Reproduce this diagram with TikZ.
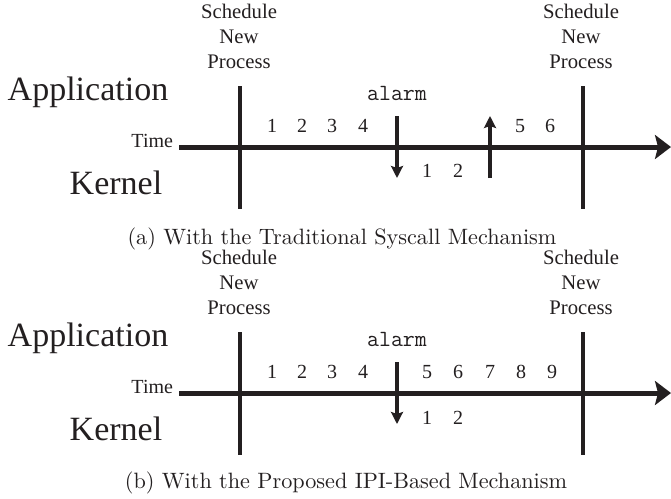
\documentclass[tikz,border=0pt]{standalone}
\usepackage{fontspec}
\usetikzlibrary{arrows.meta}
\newfontfamily\tmsfont{Liberation Serif}
\definecolor{ink}{RGB}{35,31,32}

\begin{document}
\begin{tikzpicture}[x=1pt,y=-1pt,
  every node/.style={inner sep=0pt,outer sep=0pt,text=ink},
  layer/.style={anchor=base,font=\tmsfont\fontsize{34}{40}\selectfont},
  timelbl/.style={anchor=base east,font=\tmsfont\fontsize{20}{24}\selectfont},
  % multi-line node: its base anchor sits on the last line
  sched/.style={anchor=base,align=center,font=\tmsfont\fontsize{20.7}{25}\selectfont},
  num/.style={anchor=base,font=\tmsfont\fontsize{20}{24}\selectfont},
  call/.style={anchor=base,font=\ttfamily\fontsize{23.2}{26}\selectfont},
  % caption set in the 10pt design and enlarged
  capt/.style={anchor=base,scale=2.22,font=\fontsize{10}{12}\selectfont},
  axisline/.style={draw=ink,line width=5pt,-{Stealth[length=16pt,width=24pt,inset=3pt]}},
  switchline/.style={draw=ink,line width=3.8pt},
  trap/.style={draw=ink,line width=3.2pt,-{Stealth[length=12pt,width=12pt,inset=2pt]}}
]
\useasboundingbox (0,0) rectangle (671,498);

% ---------- (a) traditional syscall ----------
\node[layer] (aapp) at (88,100) {Application};
\node[layer] (aker) at (116,194) {Kernel};
\node[timelbl] (atime) at (173,147) {Time};
\coordinate (aaxs) at (179,147);
\coordinate (aaxe) at (671,147);
\draw[axisline] (aaxs) -- (aaxe);

\node[sched] (aschl) at (239,68) {Schedule\\New\\Process};
\node[sched] (aschr) at (581,68) {Schedule\\New\\Process};
\coordinate (asl1) at (240,86);  \coordinate (asl2) at (240,209);
\coordinate (asr1) at (583,86);  \coordinate (asr2) at (583,209);
\draw[switchline] (asl1) -- (asl2);
\draw[switchline] (asr1) -- (asr2);

\node[num] (au1) at (272,132) {1};
\node[num] (au2) at (302,132) {2};
\node[num] (au3) at (332,132) {3};
\node[num] (au4) at (363,132) {4};
\node[num] (au5) at (520,132) {5};
\node[num] (au6) at (550,132) {6};
\node[num] (ak1) at (427,177) {1};
\node[num] (ak2) at (458,177) {2};

\node[call] (aalarm) at (397,100) {alarm};
\coordinate (adn1) at (397,116); \coordinate (adn2) at (397,178);
\coordinate (aup1) at (490,178); \coordinate (aup2) at (490,116);
\draw[trap] (adn1) -- (adn2);
\draw[trap] (aup1) -- (aup2);

\node[capt] (acap) at (342,244) {(a) With the Traditional Syscall Mechanism};

% ---------- (b) IPI-based ----------
\node[layer] (bapp) at (88,346) {Application};
\node[layer] (bker) at (116,440) {Kernel};
\node[timelbl] (btime) at (173,393) {Time};
\coordinate (baxs) at (179,393);
\coordinate (baxe) at (671,393);
\draw[axisline] (baxs) -- (baxe);

\node[sched] (bschl) at (239,314) {Schedule\\New\\Process};
\node[sched] (bschr) at (581,314) {Schedule\\New\\Process};
\coordinate (bsl1) at (240,332);  \coordinate (bsl2) at (240,455);
\coordinate (bsr1) at (583,332);  \coordinate (bsr2) at (583,455);
\draw[switchline] (bsl1) -- (bsl2);
\draw[switchline] (bsr1) -- (bsr2);

\node[num] (bu1) at (272,378) {1};
\node[num] (bu2) at (302,378) {2};
\node[num] (bu3) at (332,378) {3};
\node[num] (bu4) at (363,378) {4};
\node[num] (bu5) at (427,378) {5};
\node[num] (bu6) at (458,378) {6};
\node[num] (bu7) at (490,378) {7};
\node[num] (bu8) at (521,378) {8};
\node[num] (bu9) at (552,378) {9};
\node[num] (bk1) at (427,424) {1};
\node[num] (bk2) at (458,424) {2};

\node[call] (balarm) at (397,346) {alarm};
\coordinate (bdn1) at (397,362); \coordinate (bdn2) at (397,424);
\draw[trap] (bdn1) -- (bdn2);

\node[capt] (bcap) at (346,488) {(b) With the Proposed IPI-Based Mechanism};
\end{tikzpicture}
\end{document}
